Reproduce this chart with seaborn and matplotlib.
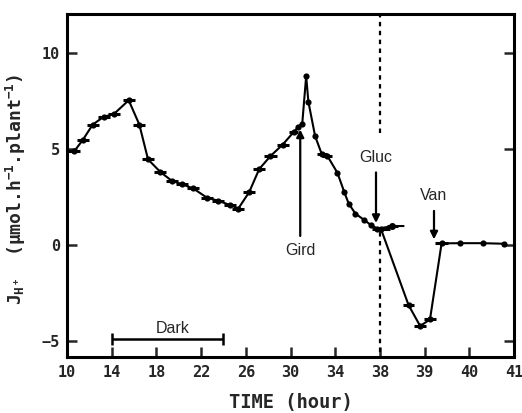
import numpy as np
import pandas as pd
import matplotlib
matplotlib.use("Agg")
import matplotlib.pyplot as plt
import seaborn as sns

# Proton flux J_H+ (umol h-1 plant-1) versus time (h)
time_h = [10.65, 11.4, 12.3, 13.28, 14.18, 15.52, 16.47, 17.25, 18.35, 19.37,
          20.26, 21.3, 22.5, 23.54, 24.59, 25.33, 26.3, 27.2, 28.2, 29.3,
          30.3, 30.7, 31.05, 31.4, 31.6, 32.2, 32.8, 33.3, 34.2, 34.8,
          35.2, 35.8, 36.6, 37.2, 37.78, 38.02, 38.64, 38.9, 39.12, 39.38,
          39.8, 40.3, 40.78]
flux = [4.88, 5.45, 6.26, 6.66, 6.8, 7.52, 6.26, 4.45, 3.8, 3.34,
        3.17, 2.94, 2.47, 2.3, 2.08, 1.9, 2.75, 3.95, 4.62, 5.22,
        5.88, 6.14, 6.31, 8.77, 7.44, 5.66, 4.72, 4.63, 3.75, 2.77,
        2.16, 1.64, 1.3, 1.04, 0.86, 0.86, -3.11, -4.2, -3.86, 0.09,
        0.1, 0.1, 0.07]
# half sampling interval (h) for each measurement
interval = [0.55, 0.55, 0.55, 0.55, 0.55, 0.55, 0.55, 0.55, 0.55, 0.55,
            0.55, 0.55, 0.55, 0.55, 0.55, 0.55, 0.55, 0.55, 0.55, 0.55,
            0.4, 0, 0, 0, 0, 0, 0.45, 0.45, 0, 0,
            0, 0, 0, 0, 0.45, 0, 0.13, 0.13, 0.13, 0.15,
            0, 0, 0]

# control trace without vanadate after glucose
ctrl_time = [38.02, 38.28, 38.53]
ctrl_flux = [0.88, 0.99, 0.99]

xtick_labels = [10, 14, 18, 22, 26, 30, 34, 38, 39, 40, 41]
ytick_values = [-5, 0, 5, 10]

dark_start, dark_end = 14, 24
gluc_time, gird_time, van_time = 37.65, 30.87, 39.21

df = pd.DataFrame({"time": time_h, "flux": flux, "half": interval})


# broken time axis: 4 h per division up to 38 h, 1 h per division after
def fwd(t):
    t = np.asarray(t, dtype=float)
    return np.where(t <= 38, (t - 10) / 4.0, 7 + (t - 38))


def inv(p):
    p = np.asarray(p, dtype=float)
    return np.where(p <= 7, 10 + 4 * p, 38 + (p - 7))


sns.set_style("ticks")
plt.rcParams["font.family"] = ["DejaVu Sans Mono", "DejaVu Sans"]
plt.rcParams["font.weight"] = "bold"
plt.rcParams["mathtext.fontset"] = "custom"
plt.rcParams["mathtext.rm"] = "DejaVu Sans Mono:bold"
plt.rcParams["mathtext.it"] = "DejaVu Sans Mono:bold"
plt.rcParams["mathtext.bf"] = "DejaVu Sans Mono:bold"

fig = plt.figure(figsize=(5.22, 4.13), dpi=100)
ax = fig.add_axes([0.1284, 0.1356, 0.8563, 0.8305])
ax.set_xscale("function", functions=(fwd, inv))

sns.lineplot(data=df, x="time", y="flux", sort=False, estimator=None,
             color="black", lw=1.5, ax=ax, zorder=3)
sns.scatterplot(data=df, x="time", y="flux", color="black", s=20,
                edgecolor="black", linewidth=0, ax=ax, zorder=4)
ax.errorbar(df["time"], df["flux"], xerr=df["half"], fmt="none",
            ecolor="black", elinewidth=2.2, capsize=0, zorder=4)

sns.lineplot(x=ctrl_time, y=ctrl_flux, sort=False, estimator=None,
             color="black", lw=1.5, ax=ax, zorder=3)
ax.errorbar([ctrl_time[1]], [ctrl_flux[1]], xerr=[0.12], fmt="o",
            color="black", ms=4, elinewidth=2.2, capsize=0, zorder=4)

# glucose addition time
ax.vlines(38, 5.8, 12.2, colors="black", linestyles=(0, (2, 2)), lw=1.6, zorder=1)
ax.vlines(38, -6, 0.7, colors="black", linestyles=(0, (2, 2)), lw=1.6, zorder=1)

arrow = dict(arrowstyle="-|>", color="black", lw=1.6, mutation_scale=11,
             shrinkA=3, shrinkB=0)
label_font = dict(ha="center", va="center", fontsize=11.5,
                  fontweight="normal", family="Liberation Sans")
ax.annotate("Gird", xy=(gird_time, 6.0), xytext=(gird_time, -0.3),
            arrowprops=arrow, **label_font)
ax.annotate("Gluc", xy=(gluc_time, 1.15), xytext=(gluc_time, 4.55),
            arrowprops=arrow, **label_font)
ax.annotate("Van", xy=(van_time, 0.3), xytext=(van_time, 2.55),
            arrowprops=arrow, **label_font)

# dark period bar
ax.errorbar([(dark_start + dark_end) / 2], [-4.9],
            xerr=[(dark_end - dark_start) / 2], fmt="none", ecolor="black",
            elinewidth=1.8, capsize=4, capthick=1.8)
ax.text(19.5, -4.35, "Dark", **label_font)

ax.set_xlim(10, 41)
ax.set_ylim(-5.81, 12.0)
ax.set_xticks(xtick_labels)
ax.set_xticklabels([str(v) for v in xtick_labels])
ax.set_yticks(ytick_values)
ax.tick_params(axis="both", direction="in", length=7, width=1.8,
               labelsize=11, pad=6)
ax.tick_params(axis="y", right=True, pad=5)
ax.tick_params(axis="x", top=False)
for s in ax.spines.values():
    s.set_visible(True)
    s.set_linewidth(2.2)
    s.set_color("black")
for lab in ax.get_xticklabels() + ax.get_yticklabels():
    lab.set_fontweight("bold")

ax.set_xlabel("TIME (hour)", fontsize=13.5, fontweight="bold", labelpad=9)
ax.set_ylabel(r"$J_{H^+}$  (μmol.h$^{-1}$.plant$^{-1}$)",
              fontsize=13, fontweight="bold")
ax.yaxis.set_label_coords(-0.088, 0.49)

fig.savefig("out.png", dpi=100, facecolor="white")
